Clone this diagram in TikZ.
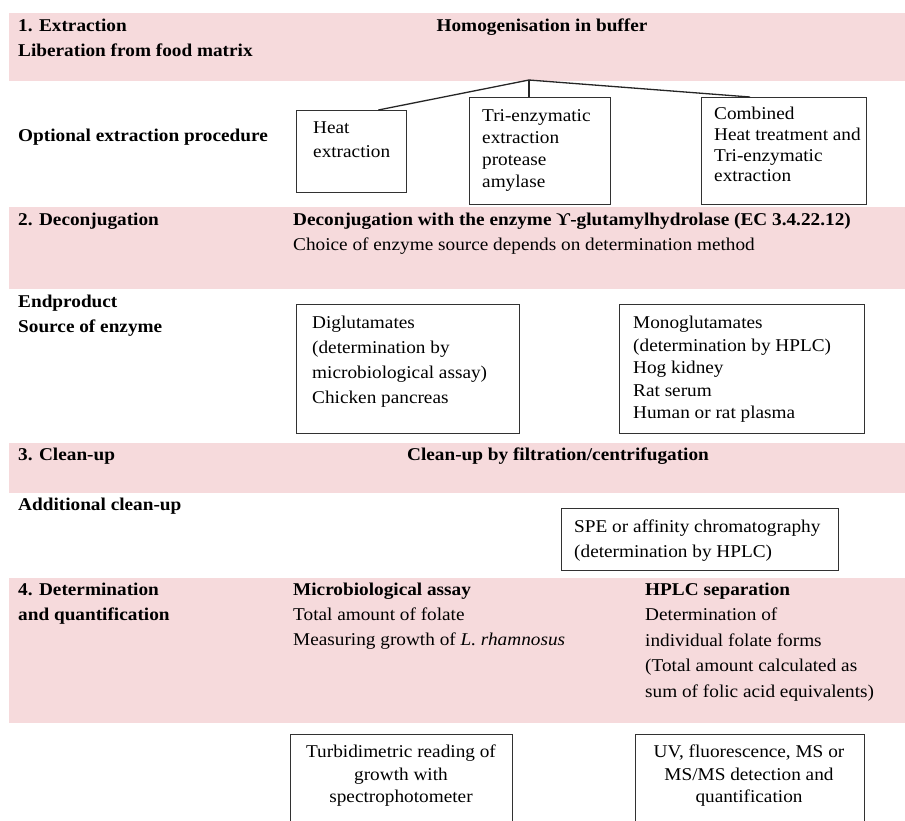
\documentclass[tikz,border=0pt]{standalone}
\usepackage{fontspec}
\setmainfont{Liberation Serif}[FakeStretch=1.07]
\definecolor{bandpink}{RGB}{246,218,220}
\definecolor{boxgray}{RGB}{50,50,50}
\tikzset{
	band/.style={fill=bandpink, draw=none},
	head/.style={font=\fontsize{18}{25}\selectfont\bfseries, inner sep=0pt, anchor=north west, align=left},
	body/.style={font=\fontsize{18}{25}\selectfont, inner sep=0pt, anchor=north west, align=left},
	tight/.style={body, font=\fontsize{18}{22}\selectfont},
	box/.style={draw=boxgray, line width=1.3pt, inner sep=0pt, anchor=north west},
	branch/.style={draw=black!85, line width=1.3pt},
}

\begin{document}
\begin{tikzpicture}[x=1pt, y=-1pt]
		\useasboundingbox (0,0) rectangle (905,820);
		\clip (0,0) rectangle (905,820);
		
		%bands
		\fill[band] (9,13) rectangle (905,81);
		\fill[band] (9,207) rectangle (905,289);
		\fill[band] (9,443) rectangle (905,493);
		\fill[band] (9,578) rectangle (905,723);
		
		%1. extraction
		\node[head] (extract) at (18,19) {1. Extraction\\Liberation from food matrix};
		\node[head, anchor=north] (homog) at (542,19) {Homogenisation in buffer};
		\node[head] (optional) at (18,129) {Optional extraction procedure};
		
		\node[box, minimum width=110, minimum height=82] (heat) at (296,110) {};
		\node[body, font=\fontsize{18}{24}\selectfont] (heattxt) at (313,122) {Heat\\extraction};
		
		\node[box, minimum width=141, minimum height=107] (tri) at (469,97) {};
		\node[tight] (tritxt) at (482,109) {Tri-enzymatic\\extraction\\protease\\amylase};
		
		\node[box, minimum width=165, minimum height=107] (comb) at (701,97) {};
		\node[body, font=\fontsize{18}{20.7}\selectfont] (combtxt) at (714,107) {Combined\\Heat treatment and\\Tri-enzymatic\\extraction};
		
		\coordinate (root) at (529,80);
		\draw[branch] (root) -- ([xshift=-29pt]heat.north east);
		\draw[branch] (root) -- (root |- tri.north);
		\draw[branch] (root) -- ([xshift=49pt]comb.north west);
		
		%2. deconjugation
		\node[head] (deconj) at (18,213) {2. Deconjugation};
		\node[head] (enzyme) at (293,213) {Deconjugation with the enzyme ϒ-glutamylhydrolase (EC 3.4.22.12)};
		\node[body] (choice) at (293,238) {Choice of enzyme source depends on determination method};
		\node[head] (endprod) at (18,295) {Endproduct\\Source of enzyme};
		
		\node[box, minimum width=223, minimum height=129] (diglu) at (296,304) {};
		\node[body] (diglutxt) at (312,316) {Diglutamates\\(determination by\\microbiological assay)\\Chicken pancreas};
		
		\node[box, minimum width=245, minimum height=129] (monoglu) at (619,304) {};
		\node[body, font=\fontsize{18}{22.5}\selectfont] (monoglutxt) at (633,316) {Monoglutamates\\(determination by HPLC)\\Hog kidney\\Rat serum\\Human or rat plasma};
		
		%3. clean-up
		\node[head] (cleanup) at (18,448) {3. Clean-up};
		\node[head, anchor=north] (filtr) at (558,448) {Clean-up by filtration/centrifugation};
		\node[head] (addclean) at (18,498) {Additional clean-up};
		
		\node[box, minimum width=277, minimum height=62] (spe) at (561,508) {};
		\node[body] (spetxt) at (574,520) {SPE or affinity chromatography\\(determination by HPLC)};
		
		%4. determination
		\node[head] (determ) at (18,583) {4. Determination\\and quantification};
		\node[head] (micro) at (293,583) {Microbiological assay};
		\node[body] (microtxt) at (293,608) {Total amount of folate\\Measuring growth of \textit{L. rhamnosus}};
		\node[head] (hplc) at (645,583) {HPLC separation};
		\node[body, font=\fontsize{18}{25.5}\selectfont] (hplctxt) at (645,608) {Determination of\\individual folate forms\\(Total amount calculated as\\sum of folic acid equivalents)};
		
		\node[box, minimum width=222, minimum height=110] (turb) at (290,734) {};
		\node[tight, font=\fontsize{18}{22.5}\selectfont, anchor=north, align=center] (turbtxt) at (401,745) {Turbidimetric reading of\\growth with\\spectrophotometer};
		
		\node[box, minimum width=229, minimum height=110] (uv) at (635,734) {};
		\node[tight, font=\fontsize{18}{22.5}\selectfont, anchor=north, align=center] (uvtxt) at (749,745) {UV, fluorescence, MS or\\MS/MS detection and\\quantification};
\end{tikzpicture}
\end{document}
